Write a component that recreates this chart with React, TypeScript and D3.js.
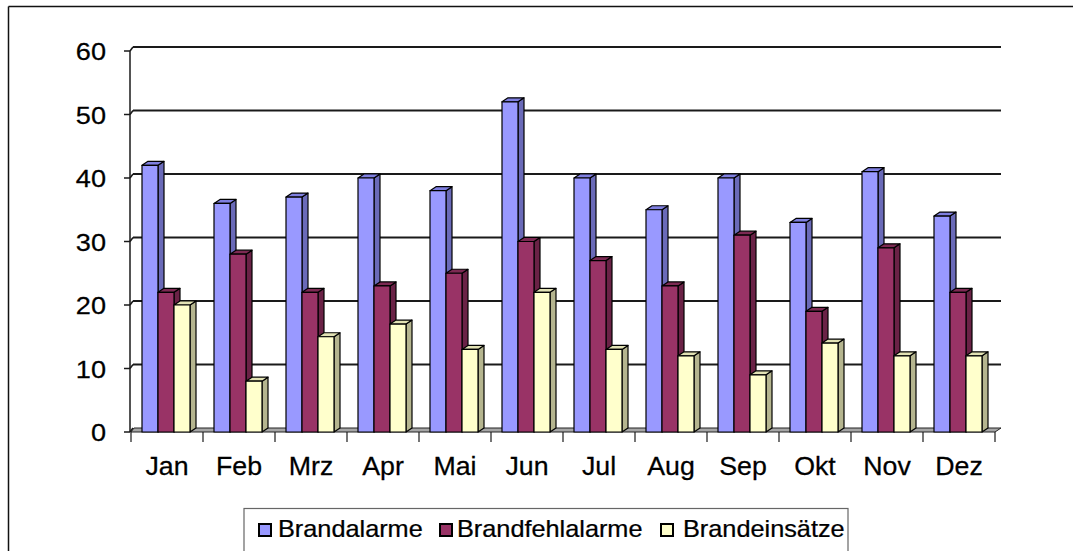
import React from "react";
import * as d3 from "d3";

const months = ["Jan", "Feb", "Mrz", "Apr", "Mai", "Jun", "Jul", "Aug", "Sep", "Okt", "Nov", "Dez"];
const brandalarme = [42, 36, 37, 40, 38, 52, 40, 35, 40, 33, 41, 34];
const brandfehlalarme = [22, 28, 22, 23, 25, 30, 27, 23, 31, 19, 29, 22];
const brandeinsaetze = [20, 8, 15, 17, 13, 22, 13, 12, 9, 14, 12, 12];
const yTicks = [0, 10, 20, 30, 40, 50, 60];

const series = [
	{ name: "Brandalarme", values: brandalarme, front: "#9999ff", side: "#6a6ab8", top: "#7f7fe0" },
	{ name: "Brandfehlalarme", values: brandfehlalarme, front: "#993366", side: "#6a2246", top: "#7d2a53" },
	{ name: "Brandeinsätze", values: brandeinsaetze, front: "#ffffcc", side: "#b5b58f", top: "#e2e2b4" },
];

const x = d3.scaleBand().domain(months).range([131, 995]);
const y = d3.scaleLinear().domain([0, 60]).range([432, 51]);

const barW = 16;
const barOff = 11;
const dx = 6;
const dy = -4;
const font = "'Liberation Sans', Arial, sans-serif";

const legendItems = [
	{ mx: 258, tx: 278 },
	{ mx: 439, tx: 457 },
	{ mx: 660, tx: 683 },
];

export default function App() {
	const poly = (pts: number[][]) => pts.map((p) => p.join(",")).join(" ");
	return (
		<svg
			width={1073}
			height={551}
			style={{ position: "absolute", left: 0, top: 0, background: "#fff" }}
			fontFamily={font}>
			{/* outer frame */}
			<line x1={8.5} y1={6.5} x2={1073} y2={6.5} stroke="#111" strokeWidth={1.5} />
			<line x1={8.5} y1={6.5} x2={8.5} y2={551} stroke="#111" strokeWidth={1.5} />

			{/* back wall gridlines */}
			{yTicks.map((t) => (
				<g key={t}>
					{t > 0 && (
						<line x1={133} y1={y(t) - 4} x2={1001} y2={y(t) - 4} stroke="#1a1a1a" strokeWidth={2} />
					)}
					<line x1={130} y1={y(t)} x2={133} y2={y(t) - 4} stroke="#1a1a1a" strokeWidth={1.5} />
					<line x1={124} y1={y(t)} x2={130} y2={y(t)} stroke="#1a1a1a" strokeWidth={1.5} />
					<text
						transform={`translate(106,${y(t) + 9}) scale(1.13,1)`}
						textAnchor="end"
						fontSize={24}
						fill="#000"
						stroke="#000"
						strokeWidth={0.25}>
						{t}
					</text>
				</g>
			))}
			<line x1={130} y1={y(60)} x2={130} y2={y(0)} stroke="#1a1a1a" strokeWidth={1.5} />

			{/* floor */}
			<polygon
				points={poly([[131, 432], [995, 432], [1001, 428], [134, 428]])}
				fill="#a6a6a6"
				stroke="#222"
				strokeWidth={1}
			/>

			{/* bars */}
			{months.map((m, i) => (
				<g key={m}>
					{series.map((s, j) => {
						const x0 = (x(m) as number) + barOff + j * barW;
						const x1 = x0 + barW;
						const yt = y(s.values[i]);
						const yb = y(0);
						return (
							<g key={s.name} stroke="#000" strokeWidth={1.2} strokeLinejoin="round">
								<polygon
									points={poly([[x1, yb], [x1 + dx, yb + dy], [x1 + dx, yt + dy], [x1, yt]])}
									fill={s.side}
								/>
								<polygon
									points={poly([[x0, yt], [x1, yt], [x1 + dx, yt + dy], [x0 + dx, yt + dy]])}
									fill={s.top}
								/>
								<rect x={x0} y={yt} width={barW} height={yb - yt} fill={s.front} />
							</g>
						);
					})}
				</g>
			))}

			{/* x ticks and labels */}
			{[...months.map((m) => x(m) as number), 995].map((v, i) => (
				<line key={i} x1={v} y1={432} x2={v} y2={442} stroke="#1a1a1a" strokeWidth={1.2} />
			))}
			{months.map((m) => (
				<text
					key={m}
					transform={`translate(${(x(m) as number) + x.bandwidth() / 2},${475}) scale(1.07,1)`}
					textAnchor="middle"
					fontSize={25}
					fill="#000"
					stroke="#000"
					strokeWidth={0.25}>
					{m}
				</text>
			))}

			{/* legend */}
			<rect x={244} y={508.5} width={604} height={60} fill="#fff" stroke="#666" strokeWidth={1.2} />
			{series.map((s, j) => (
				<g key={s.name}>
					<rect
						x={legendItems[j].mx + 1}
						y={524}
						width={12}
						height={12}
						fill={s.front}
						stroke="#000"
						strokeWidth={2}
					/>
					<text
						transform={`translate(${legendItems[j].tx},${537}) scale(1.1,1)`}
						fontSize={23}
						fill="#000"
						stroke="#000"
						strokeWidth={0.25}>
						{s.name}
					</text>
				</g>
			))}
		</svg>
	);
}
